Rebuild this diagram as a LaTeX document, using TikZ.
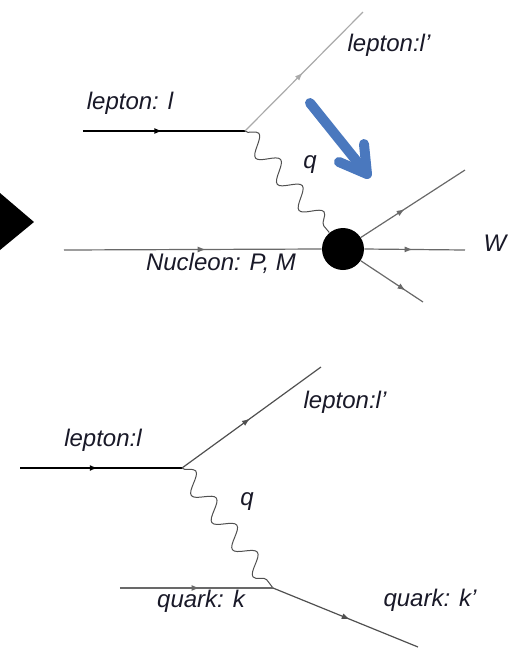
\documentclass[tikz,border=0pt]{standalone}
\usepackage{fontspec}
\setmainfont{Liberation Sans}
\usepackage{xcolor}
\usepackage{tikz}
\usetikzlibrary{arrows.meta, positioning, calc, decorations.pathmorphing, decorations.markings}
\definecolor{myblue}{RGB}{74,120,190}
\definecolor{mydark}{RGB}{25,25,40}
\definecolor{lightline}{RGB}{170,170,170}
\definecolor{midline}{RGB}{105,105,105}
\definecolor{darkline}{RGB}{80,80,80}
\tikzset{
  lbl/.style={font=\fontsize{12}{14}\selectfont\itshape, text=mydark, inner sep=0pt},
  fermion/.style={postaction={decorate}, decoration={markings,
    mark=at position #1 with {\arrow{Latex[length=4pt,width=3pt]}}}},
  fermion/.default=0.5,
  inline/.style={line width=1pt, color=black},
  outline/.style={line width=0.6pt, color=darkline},
  photon/.style={line width=0.5pt, color=darkline,
    decorate, decoration={snake, segment length=17pt, amplitude=4.6pt}},
  blob/.style={circle, fill=black, minimum size=21pt, inner sep=0pt},
  bigarrow/.style={line width=5pt, color=myblue, line cap=round, line join=round}
}

\begin{document}
\begin{tikzpicture}[x=0.5pt, y=-0.5pt]
  \useasboundingbox (0,0) rectangle (508,650);

  % Slide marker
  \fill[black] (0,193) -- (34,222) -- (0,250) -- cycle;

  % Top diagram: lepton on nucleon
  \coordinate (lin1) at (83,131);
  \coordinate (vtx1) at (245,131);
  \coordinate (lout1) at (363,12);
  \coordinate (nin) at (64,250);
  \node[blob] (blob) at (343,249) {};
  \coordinate (wup) at (465,170);
  \coordinate (wmid) at (465,250);
  \coordinate (wlow) at (423,302);

  \draw[inline, fermion=0.49] (lin1) -- (vtx1);
  \draw[line width=0.6pt, color=lightline, fermion=0.49] (vtx1) -- (lout1);
  \draw[photon] (vtx1) -- (blob);
  \draw[outline, color=midline, fermion=0.55] (nin) -- (blob.west);
  \draw[outline, color=midline, fermion=0.42] (blob) -- (wup);
  \draw[outline, color=midline, fermion=0.48] (blob.east) -- (wmid);
  \draw[outline, color=midline, fermion=0.72] (blob) -- (wlow);

  \node[lbl] (llep1) at (130,103) {lepton: l};
  \node[lbl] (llepp1) at (389,45) {lepton:l’};
  \node[lbl] (lq1) at (310,165) {q};
  \node[lbl] (lnuc) at (221,263) {Nucleon: P, M};
  \node[lbl] (lw) at (495,243) {W};

  % Blue pointer
  \coordinate (ba) at (310,103);
  \coordinate (bb) at (367,174);
  \coordinate (bw1) at (364,144);
  \coordinate (bw2) at (339,162);
  \draw[bigarrow] (ba) -- (bb);
  \draw[bigarrow] (bw1) -- (bb) -- (bw2);

  % Bottom diagram: lepton on quark
  \coordinate (lin2) at (20,468);
  \coordinate (vtx2) at (182,468);
  \coordinate (lout2) at (321,367);
  \coordinate (qin) at (120,588);
  \coordinate (vtx3) at (273,588);
  \coordinate (qout) at (418,647);

  \draw[inline, fermion=0.48] (lin2) -- (vtx2);
  \draw[outline, fermion=0.49] (vtx2) -- (lout2);
  \draw[photon] (vtx2) -- (vtx3);
  \draw[outline, color=midline, fermion=0.52] (qin) -- (vtx3);
  \draw[outline, fermion=0.53] (vtx3) -- (qout);

  \node[lbl] (llep2) at (103,440) {lepton:l};
  \node[lbl] (llepp2) at (345,402) {lepton:l’};
  \node[lbl] (lq2) at (247,502) {q};
  \node[lbl] (lqk) at (201,601) {quark: k};
  \node[lbl] (lqkp) at (430,600) {quark: k’};
\end{tikzpicture}
\end{document}
